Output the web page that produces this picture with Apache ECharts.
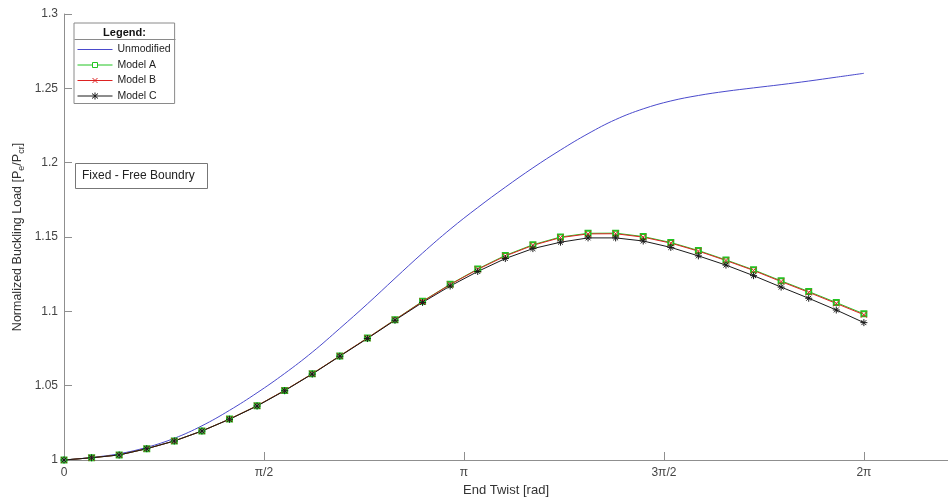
<!DOCTYPE html>
<html>
<head>
<meta charset="utf-8">
<script src="https://cdn.jsdelivr.net/npm/echarts@6/dist/echarts.min.js"></script>
<style>
  html, body { margin: 0; padding: 0; background: #fff; }
  #chart { width: 948px; height: 502px; }
</style>
</head>
<body>
<div id="chart"></div>
<script>
// End twist sample points (rad), 0 .. 2π in 29 steps
const twistRad = [0, 0.2167, 0.4333, 0.6500, 0.8666, 1.0833, 1.3000, 1.5166, 1.7333, 1.9500,
  2.1666, 2.3833, 2.5999, 2.8166, 3.0333, 3.2499, 3.4666, 3.6833, 3.8999, 4.1166,
  4.3332, 4.5499, 4.7666, 4.9832, 5.1999, 5.4166, 5.6332, 5.8499, 6.0665, 6.2832];

// Normalized buckling load
const unmodified = [1.0000, 1.0017, 1.0042, 1.0085, 1.0146, 1.0230, 1.0334, 1.0452, 1.0582, 1.0725,
  1.0885, 1.1050, 1.1222, 1.1392, 1.1552, 1.1698, 1.1835, 1.1965, 1.2085, 1.2195,
  1.2290, 1.2362, 1.2415, 1.2452, 1.2480, 1.2503, 1.2525, 1.2549, 1.2575, 1.2601];
const modelA = [1.0000, 1.0015, 1.0034, 1.0076, 1.0128, 1.0195, 1.0275, 1.0365, 1.0468, 1.0580,
  1.0700, 1.0820, 1.0944, 1.1068, 1.1182, 1.1285, 1.1376, 1.1448, 1.1500, 1.1525,
  1.1526, 1.1503, 1.1463, 1.1409, 1.1346, 1.1279, 1.1205, 1.1133, 1.1059, 1.0983];
const modelB = [1.0000, 1.0015, 1.0034, 1.0076, 1.0128, 1.0195, 1.0275, 1.0365, 1.0468, 1.0580,
  1.0700, 1.0820, 1.0943, 1.1066, 1.1180, 1.1282, 1.1372, 1.1444, 1.1496, 1.1521,
  1.1522, 1.1499, 1.1459, 1.1405, 1.1342, 1.1275, 1.1200, 1.1128, 1.1053, 1.0977];
const modelC = [1.0000, 1.0015, 1.0034, 1.0076, 1.0128, 1.0195, 1.0274, 1.0363, 1.0466, 1.0578,
  1.0698, 1.0817, 1.0940, 1.1060, 1.1170, 1.1268, 1.1355, 1.1422, 1.1465, 1.1494,
  1.1494, 1.1473, 1.1430, 1.1373, 1.1311, 1.1240, 1.1163, 1.1088, 1.1009, 1.0924];

const xTickLabels = ['0', 'π/2', 'π', '3π/2', '2π'];
const seriesNames = ['Unmodified', 'Model A', 'Model B', 'Model C'];
const seriesColors = ['#4a4acc', '#22c422', '#dd2222', '#1a1a1a'];

const FONT = '"Liberation Sans", Arial, sans-serif';
const AXIS_GREY = '#8f8f8f';
const HALF_PI = Math.PI / 2;

// legend icons: 35x10 box, line with the marker in the middle (MATLAB style)
const BOX = 'M0,0M35,10';
const legendIcons = [
  'path://' + BOX + 'M0,5L35,5',
  'path://' + BOX + 'M0,5L15,5M20,5L35,5M15,2.5L20,2.5L20,7.5L15,7.5Z',
  'path://' + BOX + 'M0,5L35,5M15,2.5L20,7.5M20,2.5L15,7.5',
  'path://' + BOX + 'M0,5L35,5M17.5,1.5L17.5,8.5M14.5,2.5L20.5,7.5M20.5,2.5L14.5,7.5',
];

const pairs = (ys) => twistRad.map((t, i) => [t, ys[i]]);

const chart = echarts.init(document.getElementById('chart'));
chart.setOption({
  animation: false,
  backgroundColor: '#fff',
  textStyle: { fontFamily: FONT },
  grid: { left: 64, right: 0, top: 14, bottom: 42 },
  xAxis: {
    type: 'value', min: 0, max: 6.944, interval: HALF_PI,
    name: 'End Twist [rad]', nameLocation: 'middle', nameGap: 21,
    nameTextStyle: { fontSize: 13, color: '#333', fontFamily: FONT },
    axisLine: { lineStyle: { color: AXIS_GREY } },
    axisTick: { inside: true, length: 8, lineStyle: { color: AXIS_GREY } },
    splitLine: { show: false },
    axisLabel: {
      fontSize: 12, color: '#444', margin: 7, showMaxLabel: false,
      formatter: (v) => {
        const k = Math.round(v / HALF_PI);
        return Math.abs(v / HALF_PI - k) < 1e-6 ? (xTickLabels[k] ?? '') : '';
      },
    },
  },
  yAxis: {
    type: 'value', min: 1, max: 1.3, interval: 0.05,
    name: 'Normalized Buckling Load [P{sub|e}/P{sub|cr}]',
    nameLocation: 'middle', nameGap: 38, nameMoveOverlap: false,
    nameTextStyle: {
      fontSize: 12.5, color: '#333', fontFamily: FONT,
      rich: { sub: { fontSize: 9, color: '#333', padding: [8, 0, 0, 0] } },
    },
    axisLine: { show: true, lineStyle: { color: AXIS_GREY } },
    axisTick: { show: true, inside: true, length: 8, lineStyle: { color: AXIS_GREY } },
    splitLine: { show: false },
    axisLabel: { fontSize: 12, color: '#444', margin: 6 },
  },
  legend: {
    orient: 'vertical', left: 74, top: 23,
    padding: [21, 4, 2, 3], itemGap: 4.5, itemWidth: 35, itemHeight: 10,
    borderColor: '#8a8a8a', borderWidth: 1, backgroundColor: '#fff',
    textStyle: { fontSize: 10.5, lineHeight: 10, color: '#222', fontFamily: FONT, padding: 0 },
    data: seriesNames.map((name, i) => ({
      name,
      icon: legendIcons[i],
      itemStyle: { color: '#fff', borderColor: seriesColors[i], borderWidth: 1 },
    })),
  },
  graphic: [
    { type: 'text', z: 100, x: 124.5, y: 32.5,
      style: { text: 'Legend:', font: 'bold 11px ' + FONT, fill: '#111', align: 'center', verticalAlign: 'middle' } },
    { type: 'line', z: 100, shape: { x1: 74.5, y1: 39.5, x2: 175.5, y2: 39.5 },
      style: { stroke: '#8a8a8a', lineWidth: 1 } },
    { type: 'group', z: 100, children: [
      { type: 'rect', shape: { x: 75.5, y: 163.5, width: 132, height: 25 },
        style: { fill: '#fff', stroke: '#777', lineWidth: 1 } },
      { type: 'text', x: 82, y: 176,
        style: { text: 'Fixed - Free Boundry', font: '12px ' + FONT, fill: '#222', verticalAlign: 'middle' } },
    ] },
  ],
  series: [
    { name: seriesNames[0], type: 'line', data: pairs(unmodified), smooth: 0.4,
      symbol: 'none', lineStyle: { width: 1, color: seriesColors[0] }, itemStyle: { color: seriesColors[0] } },
    { name: seriesNames[1], type: 'line', data: pairs(modelA),
      symbol: 'emptyRect', symbolSize: 5, showAllSymbol: true,
      lineStyle: { width: 1, color: seriesColors[1] }, itemStyle: { color: seriesColors[1], borderWidth: 1 } },
    { name: seriesNames[2], type: 'line', data: pairs(modelB),
      symbol: 'path://M0,0L10,10M10,0L0,10', symbolSize: 6, showAllSymbol: true,
      lineStyle: { width: 1, color: seriesColors[2] },
      itemStyle: { color: seriesColors[2], borderColor: seriesColors[2], borderWidth: 1 } },
    { name: seriesNames[3], type: 'line', data: pairs(modelC),
      symbol: 'path://M5,0L5,10M0,5L10,5M1.5,1.5L8.5,8.5M8.5,1.5L1.5,8.5', symbolSize: 7, showAllSymbol: true,
      lineStyle: { width: 1, color: seriesColors[3] },
      itemStyle: { color: seriesColors[3], borderColor: seriesColors[3], borderWidth: 1 } },
  ],
});
</script>
</body>
</html>
